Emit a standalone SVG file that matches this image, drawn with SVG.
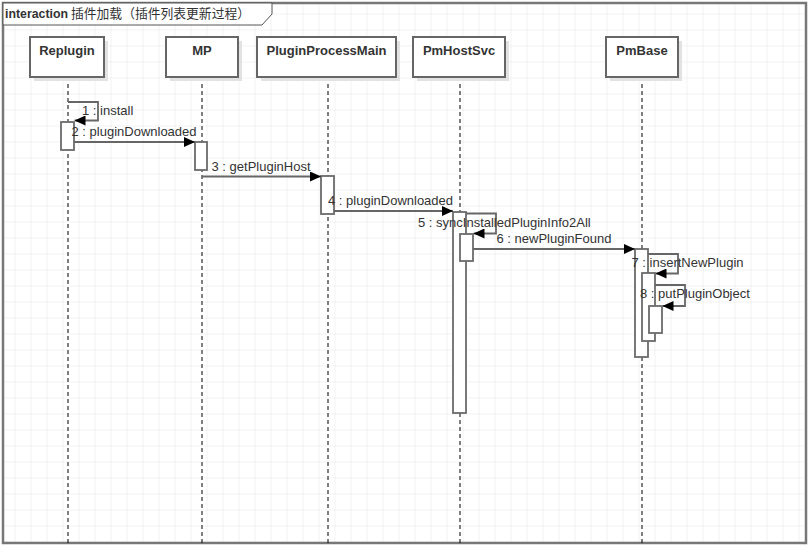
<svg xmlns="http://www.w3.org/2000/svg" width="812" height="545" viewBox="0 0 812 545">
<defs>
<pattern id="grid" x="14.5" y="13.5" width="16" height="16" patternUnits="userSpaceOnUse">
<path d="M0 0H16M0 0V16" fill="none" stroke="#e6e6e6" stroke-width="1"/>
</pattern>
<marker id="ah" markerWidth="11" markerHeight="10" refX="11" refY="5" orient="auto" markerUnits="userSpaceOnUse">
<path d="M0 0L11 5L0 10Z" fill="#000"/>
</marker>
</defs>
<style>
text{font-family:"Liberation Sans",Arial,"Noto Sans CJK SC",sans-serif;font-size:13px;fill:#333}
.name{font-weight:bold;text-anchor:middle}
.box{fill:#fff;stroke:#666;stroke-width:2}
.shadow{fill:#e2e2e2}
.life{stroke:#000;stroke-width:1;stroke-dasharray:4 3;fill:none}
.act{fill:#fff;stroke:#6b6b6b;stroke-width:1.8}
.msg{fill:none;stroke:#666;stroke-width:1.8;marker-end:url(#ah)}
</style>
<rect x="0" y="0" width="812" height="545" fill="#fff"/>
<rect x="3" y="3" width="803" height="540" fill="url(#grid)"/>
<rect id="frame" x="3" y="3" width="803" height="540" fill="none" stroke="#777" stroke-width="2.5"/>
<g id="title">
<path d="M3 3H272V14L262 25H3Z" fill="#fff" stroke="#555" stroke-width="1"/>
<text x="5" y="18"><tspan font-weight="bold" textLength="63" lengthAdjust="spacingAndGlyphs">interaction</tspan><tspan x="71" textLength="179" lengthAdjust="spacingAndGlyphs">插件加载（插件列表更新过程）</tspan></text>
</g>
<g id="lifelines">
<line class="life" x1="68" y1="77" x2="68" y2="543"/>
<line class="life" x1="202" y1="77" x2="202" y2="543"/>
<line class="life" x1="328" y1="77" x2="328" y2="543"/>
<line class="life" x1="460" y1="77" x2="460" y2="543"/>
<line class="life" x1="642" y1="77" x2="642" y2="543"/>
</g>
<g id="Replugin">
<rect class="shadow" x="34" y="41" width="74" height="40"/>
<rect class="box" x="30" y="37" width="74" height="40"/>
<text class="name" x="67" y="55">Replugin</text>
</g>
<g id="MP">
<rect class="shadow" x="170" y="41" width="72" height="40"/>
<rect class="box" x="166" y="37" width="72" height="40"/>
<text class="name" x="202" y="55">MP</text>
</g>
<g id="PluginProcessMain">
<rect class="shadow" x="261" y="41" width="139" height="40"/>
<rect class="box" x="257" y="37" width="139" height="40"/>
<text class="name" x="326.5" y="55">PluginProcessMain</text>
</g>
<g id="PmHostSvc">
<rect class="shadow" x="417" y="41" width="92" height="40"/>
<rect class="box" x="413" y="37" width="92" height="40"/>
<text class="name" x="459" y="55">PmHostSvc</text>
</g>
<g id="PmBase">
<rect class="shadow" x="610" y="41" width="72" height="40"/>
<rect class="box" x="606" y="37" width="72" height="40"/>
<text class="name" x="642" y="55">PmBase</text>
</g>
<g id="activations">
<rect class="act" x="61" y="122" width="13" height="28"/>
<rect class="act" x="195" y="142" width="12" height="28"/>
<rect class="act" x="321" y="176" width="13" height="38"/>
<rect class="act" x="453" y="212" width="13" height="201"/>
<rect class="act" x="460" y="234" width="13" height="27"/>
<rect class="act" x="635" y="249" width="13" height="108"/>
<rect class="act" x="642" y="273" width="13" height="68"/>
<rect class="act" x="649" y="306" width="13" height="27"/>
</g>
<g id="connectors">
<path class="msg" d="M68 102H98V120.5H74.5"/>
<path class="msg" d="M74 142H195"/>
<path class="msg" d="M202 176.5H321"/>
<path class="msg" d="M334 211H453"/>
<path class="msg" d="M466 213.5H496V233.5H473.5"/>
<path class="msg" d="M473 249H635"/>
<path class="msg" d="M648 254H678V273.5H655.5"/>
<path class="msg" d="M655 285H685V306H662.5"/>
</g>
<g id="labels">
<text x="82" y="115">1 : install</text>
<text x="71.5" y="136">2 : pluginDownloaded</text>
<text x="211.5" y="170.5">3 : getPluginHost</text>
<text x="328" y="205">4 : pluginDownloaded</text>
<text x="418" y="227">5 : syncInstalledPluginInfo2All</text>
<text x="496.5" y="243">6 : newPluginFound</text>
<text x="631.5" y="267">7 : insertNewPlugin</text>
<text x="640" y="298">8 : putPluginObject</text>
</g>
</svg>
